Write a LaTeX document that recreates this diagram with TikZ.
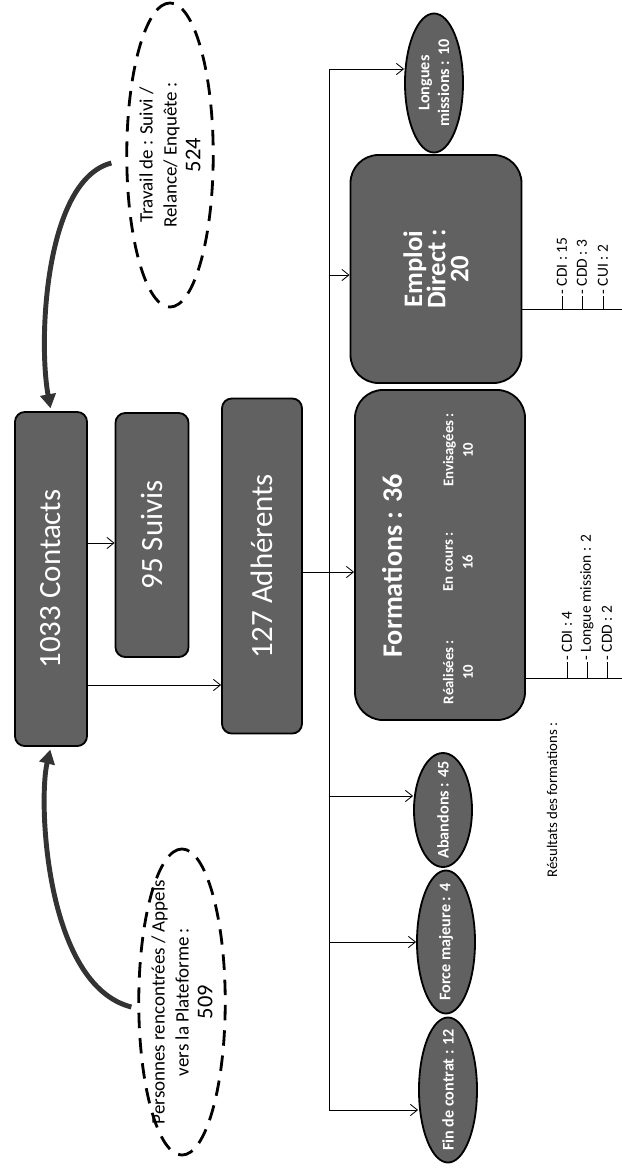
\documentclass[tikz,border=0pt]{standalone}
\usepackage{fontspec}
\setmainfont{Carlito}
\usetikzlibrary{shapes.geometric, arrows.meta, positioning}

\newcommand{\zw}[1]{\makebox[0pt]{#1}}

\begin{document}
\begin{tikzpicture}[x=0.025cm, y=-0.025cm, >={Straight Barb[length=5pt,width=8pt]},
  every node/.style={rotate=90},
  box/.style={rectangle, draw, line width=1.3pt, rounded corners=7pt, fill=black!62, text=white, inner sep=0pt, font=\fontsize{22}{24}\selectfont},
  bigbox/.style={box, rounded corners=20pt, align=center, font=\bfseries\fontsize{19}{16.5}\selectfont},
  outcome/.style={ellipse, draw, line width=1.3pt, fill=black!62, text=white, inner sep=0pt, minimum height=1.45cm, align=center, font=\bfseries\fontsize{11.5}{14}\selectfont},
  source/.style={ellipse, draw, line width=2pt, dash pattern=on 11pt off 7pt, inner sep=0pt, align=center, font=\fontsize{13.5}{17}\selectfont},
  sub/.style={text=white, align=center, font=\bfseries\fontsize{10.5}{14}\selectfont},
  item/.style={anchor=west, inner sep=1pt, font=\fontsize{11}{13}\selectfont},
  link/.style={->, line width=0.6pt},
  curvearrow/.style={-{Triangle[length=10pt,width=11pt]}, line width=3.5pt, black!80, shorten >=2pt}]

\useasboundingbox (0,0) rectangle (622,1173);

% Nodes
\node[source, minimum width=7.6cm, minimum height=2.1cm] (travail) at (170,155)
  {\zw{Travail de : Suivi /}\\\zw{Relance/ Enquête :}\\\zw{\fontsize{16}{17}\selectfont 524}};
\node[source, minimum width=7.65cm, minimum height=2.05cm] (personnes) at (182,1002)
  {\zw{Personnes rencontrées / Appels}\\\zw{vers la Plateforme :}\\\zw{\fontsize{16}{17}\selectfont 509}};

\node[box, minimum width=8.35cm, minimum height=1.8cm] (contacts) at (51,579) {1033 Contacts};
\node[box, minimum width=6.1cm, minimum height=1.825cm] (suivis) at (152,535) {95 Suivis};
\node[box, minimum width=8.375cm, minimum height=2cm] (adherents) at (262,566) {127 Adhérents};

\node[bigbox, minimum width=5.7cm, minimum height=4.275cm] (emploi) at (436,269) {Emploi\\Direct :\\20};
\node[bigbox, minimum width=8.25cm, minimum height=4.25cm] (formations) at (440,555) {};
\node[text=white, font=\bfseries\fontsize{20}{24}\selectfont] (formtitle) at (392,566) {Formations : 36};
\node[sub] (realisees) at (458,672) {Réalisées :\\10};
\node[sub] (encours) at (458,562) {En cours :\\16};
\node[sub] (envisagees) at (458,450) {Envisagées :\\10};

\node[outcome, minimum width=3.475cm] (longues) at (434,83) {\zw{Longues}\\\zw{missions : 10}};
\node[outcome, minimum width=2.85cm] (abandons) at (443,810) {\zw{Abandons : 45}};
\node[outcome, minimum width=3.575cm] (force) at (446,942) {\zw{Force majeure : 4}};
\node[outcome, minimum width=3.625cm] (fin) at (448,1090) {\zw{Fin de contrat : 12}};

\node[item] (ecdi) at (562,296) {- CDI : 15};
\node[item] (ecdd) at (582,296) {- CDD : 3};
\node[item] (ecui) at (603,296) {- CUI : 2};
\node[item] (fcdi) at (567,662) {- CDI : 4};
\node[item] (flong) at (587,662) {- Longue mission : 2};
\node[item] (fcdd) at (607,662) {- CDD : 2};
\node[font=\fontsize{10.5}{12}\selectfont] (resultats) at (552,800) {Résultats des formations :};

% Bus and rows
\coordinate (r1) at (329,69);
\coordinate (r2) at (329,275);
\coordinate (r3) at (329,572);
\coordinate (r4) at (329,796);
\coordinate (r5) at (329,942);
\coordinate (r6) at (329,1110);
\coordinate (s1) at (0,543);
\coordinate (s2) at (0,685);
\coordinate (eend) at (622,309);
\coordinate (fend) at (622,678);

% Arrows
\draw[line width=0.6pt] (r1) -- (r6);
\foreach \r/\n in {r1/longues, r2/emploi, r4/abandons, r5/force, r6/fin}
  \draw[link] (\r) -- (\r -| \n.north);
\draw[link] (adherents.south |- r3) -- (r3 -| formations.north);
\draw[link] (contacts.south |- s1) -- (s1 -| suivis.north);
\draw[link] (contacts.south |- s2) -- (s2 -| adherents.north);

\draw[curvearrow] ([shift={(-14,8)}]travail.north) .. controls (45,180) and (38,340) .. (contacts.east);
\draw[curvearrow] ([shift={(-6,5)}]personnes.north) .. controls (45,985) and (38,800) .. (contacts.west);

% Results
\draw[line width=0.6pt] (emploi.south |- eend) -- (eend);
\foreach \n in {ecdi, ecdd, ecui}
  \draw[line width=0.6pt] (\n.west |- eend) -- (\n.west);
\draw[line width=0.6pt] (formations.south |- fend) -- (fend);
\foreach \n in {fcdi, flong, fcdd}
  \draw[line width=0.6pt] (\n.west |- fend) -- (\n.west);
\end{tikzpicture}
\end{document}
